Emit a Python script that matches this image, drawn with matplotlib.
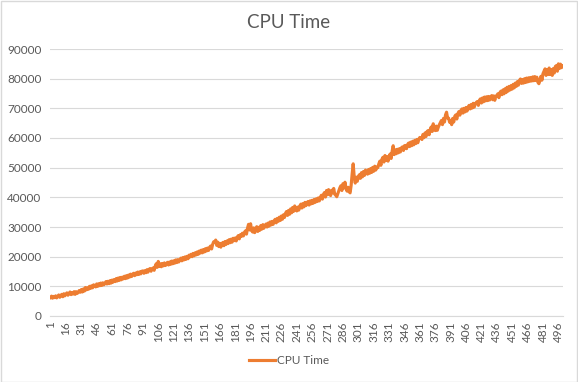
import matplotlib
matplotlib.use("Agg")
import matplotlib.pyplot as plt
from matplotlib.patches import Rectangle

# ── Data (one value per run 1..500) ──────────────────────────────────────────
cpu_time = [
    6200, 6700, 6000, 6600, 6200, 6800, 6100, 6600, 7100, 6300,
    6900, 7300, 6500, 7500, 6800, 7400, 7800, 7000, 7600, 8100,
    7200, 7900, 7400, 8200, 7300, 8200, 7600, 8000, 8600, 8000,
    8900, 8100, 9100, 8400, 9600, 8800, 9500, 9000, 10000, 9300,
    10200, 9500, 10500, 10300, 9800, 10800, 10000, 10900, 10200, 11100,
    10300, 11200, 10500, 11000, 11600, 10800, 11700, 10900, 11900, 11100,
    12100, 11400, 12300, 11600, 12600, 11800, 12800, 12000, 13000, 12200,
    13100, 12500, 13400, 12600, 13600, 12800, 13800, 13100, 14100, 13300,
    14100, 14400, 13600, 14500, 13900, 14800, 14000, 14900, 14200, 15100,
    15200, 14400, 15300, 14600, 15600, 14800, 15700, 16000, 15100, 15900,
    16200, 15400, 16700, 17600, 16400, 18400, 16700, 17600, 16600, 17700,
    16900, 17900, 17000, 17500, 18100, 17200, 18200, 17400, 18500, 17600,
    18600, 17800, 18900, 18000, 19000, 18200, 18900, 19500, 18600, 19700,
    18900, 19900, 19100, 20100, 19300, 20500, 19900, 20800, 20000, 21100,
    20300, 21300, 20600, 21600, 20800, 21900, 21200, 22200, 21300, 22400,
    21600, 22700, 21900, 22900, 22100, 23100, 23600, 22600, 24100, 25000,
    24800, 25600, 23800, 24900, 23400, 24500, 23200, 24300, 24800, 23700,
    25100, 24100, 25300, 24400, 25700, 24700, 25900, 24900, 26200, 25400,
    26300, 25300, 26600, 27100, 26000, 27400, 26800, 27900, 27000, 28200,
    28700, 27600, 29600, 30900, 29000, 31100, 28800, 28300, 29700, 28100,
    29400, 30100, 28500, 29900, 28900, 30500, 29300, 30800, 29600, 30400,
    31000, 30000, 31300, 30300, 31700, 30700, 31900, 30900, 32100, 32600,
    31400, 32900, 31900, 33300, 32200, 33700, 32600, 34100, 33200, 34600,
    35200, 33900, 35600, 34300, 36100, 34800, 36600, 35300, 37100, 35900,
    35400, 36700, 35700, 37100, 37700, 36400, 37900, 36800, 38300, 37200,
    38200, 38600, 37400, 38800, 37800, 39000, 38000, 39300, 38300, 39500,
    38600, 39800, 38800, 40000, 40700, 39400, 41000, 41600, 40100, 42300,
    40900, 42600, 41200, 40600, 42400, 41500, 43000, 41100, 40700, 40200,
    41200, 42100, 43200, 43900, 42300, 44600, 43200, 45100, 42900, 42100,
    43400, 41900, 41500, 44000, 47900, 51300, 46900, 44800, 46800, 45400,
    47000, 47600, 46400, 48300, 46900, 48700, 47400, 49200, 48200, 47800,
    49400, 48100, 49700, 48400, 50100, 48800, 50500, 49200, 50200, 50000,
    51300, 52200, 50800, 52800, 53500, 51900, 54100, 52400, 53700, 52200,
    53800, 54600, 53100, 55600, 57400, 54400, 56000, 54700, 56200, 55000,
    56400, 55300, 56700, 57000, 55800, 57400, 57500, 56400, 57800, 58300,
    57100, 58600, 57400, 58900, 57700, 59200, 58100, 59500, 58400, 59700,
    60200, 60000, 59500, 61200, 60100, 61700, 60500, 62200, 62500, 61100,
    62800, 63700, 62200, 64800, 63300, 62500, 64000, 62600, 63700, 64500,
    65200, 65900, 64500, 66600, 65400, 67800, 68700, 66700, 66700, 65300,
    65700, 64500, 66600, 65400, 67300, 67800, 66400, 68200, 68900, 67700,
    69300, 69800, 68400, 70000, 68800, 70300, 69100, 70400, 71000, 69800,
    71300, 70100, 71700, 70400, 71500, 72000, 72300, 71000, 72700, 73200,
    71800, 73500, 72200, 73800, 72500, 73900, 72600, 74000, 72800, 73800,
    74300, 72900, 74200, 72700, 74100, 74300, 74900, 73600, 75300, 75800,
    74600, 76200, 74900, 76600, 75300, 77100, 75800, 77400, 76200, 77700,
    76500, 78100, 76900, 78500, 77400, 79000, 77800, 79400, 79900, 78400,
    79700, 78500, 80000, 78700, 80200, 78900, 80300, 79100, 80400, 79200,
    80600, 79300, 80700, 79400, 80500, 78800, 78300, 79400, 80800, 79500,
    81700, 82500, 83300, 81100, 83100, 81400, 83600, 81400, 83000, 81100,
    83400, 81900, 84100, 84400, 82500, 85000, 83400, 84900, 83700, 84300,
]
runs = list(range(1, len(cpu_time) + 1))
x_tick_runs = runs[::15]
y_ticks = [0, 10000, 20000, 30000, 40000, 50000, 60000, 70000, 80000, 90000]

LINE_COLOR = "#ED7D31"
TEXT_COLOR = "#595959"
GRID_COLOR = "#D9D9D9"

plt.rcParams["font.family"] = ["Lato", "DejaVu Sans"]

fig = plt.figure(figsize=(5.78, 3.82), dpi=100)
fig.patches.append(Rectangle((0.001, 0.001), 0.997, 0.996, transform=fig.transFigure,
                             fill=False, edgecolor=GRID_COLOR, linewidth=1.0))

ax = fig.add_axes([50 / 578, 1 - 316 / 382, 513 / 578, 267 / 382])
ax.plot(runs, cpu_time, color=LINE_COLOR, linewidth=2.25, solid_joinstyle="round",
        label="CPU Time")

ax.set_xlim(0.5, len(runs) + 0.5)
ax.set_ylim(0, 90000)
ax.set_yticks(y_ticks)
ax.set_yticklabels([str(v) for v in y_ticks])
ax.set_xticks(x_tick_runs)
ax.set_xticklabels([str(v) for v in x_tick_runs], rotation=90)
ax.tick_params(axis="both", length=0, colors=TEXT_COLOR, labelsize=8.5)
ax.tick_params(axis="x", pad=4)
ax.tick_params(axis="y", pad=6)

ax.grid(axis="y", color=GRID_COLOR, linewidth=0.8)
ax.set_axisbelow(True)
for side in ("top", "right", "left"):
    ax.spines[side].set_visible(False)
ax.spines["bottom"].set_color(GRID_COLOR)
ax.spines["bottom"].set_linewidth(0.8)

fig.text(0.5, 1 - 22 / 382, "CPU Time", ha="center", va="center",
         fontsize=13.5, color=TEXT_COLOR)

fig.legend(loc="center", bbox_to_anchor=(0.5, 1 - 361 / 382), frameon=False,
           fontsize=8.5, labelcolor=TEXT_COLOR, handlelength=2.2, handletextpad=0.2)

fig.savefig("out.png", dpi=100)
